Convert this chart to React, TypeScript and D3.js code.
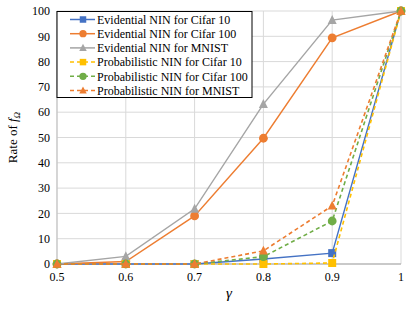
import React from "react";
import * as d3 from "d3";

const gammas = [0.5, 0.6, 0.7, 0.8, 0.9, 1];
const yTicks = [0, 10, 20, 30, 40, 50, 60, 70, 80, 90, 100];

const evCifar10 = [0, 0, 0, 2, 4.3, 100];
const evCifar100 = [0, 1, 19, 49.7, 89.4, 100];
const evMnist = [0, 3, 21.8, 63.2, 96.4, 100];
const prCifar10 = [0, 0, 0, 0, 0.4, 100];
const prCifar100 = [0, 0, 0, 2.9, 17, 100];
const prMnist = [0, 0, 0, 5.2, 23, 100];

type Shape = "square" | "circle" | "triangle";
interface Series {
  name: string;
  values: number[];
  color: string;
  shape: Shape;
  dashed: boolean;
}

const series: Series[] = [
  { name: "Evidential NIN for Cifar 10", values: evCifar10, color: "#4472C4", shape: "square", dashed: false },
  { name: "Evidential NIN for Cifar 100", values: evCifar100, color: "#ED7D31", shape: "circle", dashed: false },
  { name: "Evidential NIN for MNIST", values: evMnist, color: "#A5A5A5", shape: "triangle", dashed: false },
  { name: "Probabilistic NIN for Cifar 10", values: prCifar10, color: "#FFC000", shape: "square", dashed: true },
  { name: "Probabilistic NIN for Cifar 100", values: prCifar100, color: "#70AD47", shape: "circle", dashed: true },
  { name: "Probabilistic NIN for MNIST", values: prMnist, color: "#ED7D31", shape: "triangle", dashed: true },
];

const W = 416;
const H = 312;
const left = 57;
const right = 401;
const top = 11;
const bottom = 264;
const ts = { fontFamily: `"Liberation Serif"` };

const Marker = ({ shape, x, y, color, s }: { shape: Shape; x: number; y: number; color: string; s: number }) => {
  if (shape === "square")
    return <rect x={x - s / 2} y={y - s / 2} width={s} height={s} fill={color} />;
  if (shape === "circle") return <circle cx={x} cy={y} r={s / 2 + 0.4} fill={color} />;
  const h = s * 1.05;
  return (
    <path
      d={`M${x},${y - h * 0.6}L${x + s / 2 + 0.5},${y + h * 0.45}L${x - s / 2 - 0.5},${y + h * 0.45}Z`}
      fill={color}
    />
  );
};

export default function App() {
  const x = d3.scaleLinear().domain([0.5, 1]).range([left, right]);
  const y = d3.scaleLinear().domain([0, 100]).range([bottom, top]);
  const line = d3
    .line<number>()
    .x((_, i) => x(gammas[i]))
    .y((d) => y(d));

  const legX = left;
  const legY = top + 0.5;
  const legW = 195;
  const legH = 86;
  const rowH = 14.2;

  return (
    <svg
      width={W}
      height={H}
      style={{ display: "block", background: "#fff", position: "absolute", left: 0, top: 0 }}
    >
      {/* grid */}
      {yTicks.map((t) => (
        <line key={"gy" + t} x1={left} x2={right} y1={y(t)} y2={y(t)} stroke="#d9d9d9" strokeWidth={1} />
      ))}
      {gammas.map((g) => (
        <line key={"gx" + g} x1={x(g)} x2={x(g)} y1={top} y2={bottom} stroke="#d9d9d9" strokeWidth={1} />
      ))}
      <line x1={left} x2={left} y1={top} y2={bottom} stroke="#bfbfbf" />
      <line x1={left} x2={right} y1={bottom} y2={bottom} stroke="#a6a6a6" />

      {/* tick labels */}
      {yTicks.map((t) => (
        <text key={"ty" + t} style={ts} x={left - 7} y={y(t)} dy="0.35em" textAnchor="end" fontSize={12} fill="#000">
          {t}
        </text>
      ))}
      {gammas.map((g) => (
        <text key={"tx" + g} style={ts} x={x(g)} y={bottom + 17} textAnchor="middle" fontSize={12} fill="#000">
          {g}
        </text>
      ))}

      {/* axis titles */}
      <text
        style={ts}
        transform={`translate(17,${(top + bottom) / 2}) rotate(-90)`}
        textAnchor="middle"
        fontSize={13}
        fill="#000"
      >
        Rate of <tspan fontStyle="italic">f</tspan>
        <tspan fontStyle="italic" fontSize={9} dy={3}>Ω</tspan>
      </text>
      <text style={ts} x={(left + right) / 2} y={bottom + 34} textAnchor="middle" fontSize={15} fontStyle="italic" fill="#000">
        γ
      </text>

      {/* series */}
      {series.map((s) => (
        <g key={s.name}>
          <path
            d={line(s.values) || ""}
            fill="none"
            stroke={s.color}
            strokeWidth={s.dashed ? 1.6 : 1.4}
            strokeDasharray={s.dashed ? "4,3" : undefined}
          />
          {s.values.map((v, i) => (
            <Marker key={i} shape={s.shape} x={x(gammas[i])} y={y(v)} color={s.color} s={8} />
          ))}
        </g>
      ))}

      {/* legend */}
      <rect x={legX} y={legY} width={legW} height={legH} fill="#fff" stroke="#000" strokeWidth={1} />
      {series.map((s, i) => {
        const cy = legY + 8 + i * rowH;
        return (
          <g key={"leg" + i}>
            <line
              x1={legX + 13}
              x2={legX + 38}
              y1={cy}
              y2={cy}
              stroke={s.color}
              strokeWidth={1.5}
              strokeDasharray={s.dashed ? "4,3" : undefined}
            />
            <Marker shape={s.shape} x={legX + 26} y={cy} color={s.color} s={6.5} />
            <text style={ts} x={legX + 40} y={cy} dy="0.35em" fontSize={12} fill="#000">
              {s.name}
            </text>
          </g>
        );
      })}
    </svg>
  );
}
